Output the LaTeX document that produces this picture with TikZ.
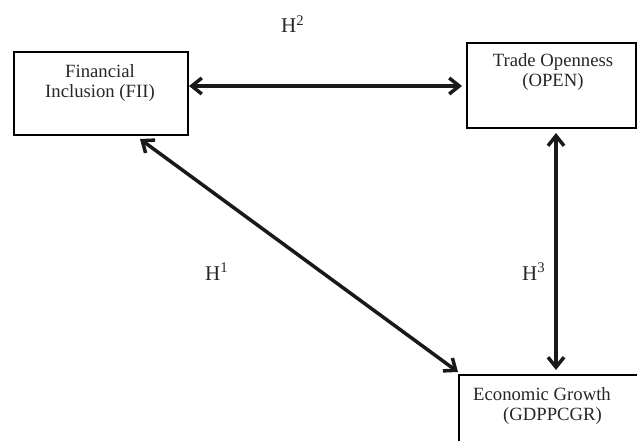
\documentclass[tikz,border=0pt]{standalone}
\usepackage{fontspec}
\setmainfont{Liberation Serif}
\usetikzlibrary{arrows.meta,calc}
\begin{document}
\begin{tikzpicture}[x=1pt,y=-1pt,
  box/.style={draw=black, line width=2pt, rectangle, inner sep=0pt, anchor=north west},
  lbl/.style={font=\fontsize{18.7}{20}\selectfont, inner sep=0pt, text=black!85},
  hyp/.style={font=\fontsize{21}{24}\selectfont, inner sep=0pt, anchor=base west, text=black!85},
  biarrow/.style={line width=3.5pt, black!90, {Straight Barb[length=10pt,width=16pt]}-{Straight Barb[length=10pt,width=16pt]}}]
\clip (0,0) rectangle (637,441);
% boxes
\node[box, minimum width=174pt, minimum height=83pt] (FII) at (13,51) {};
\node[box, minimum width=169pt, minimum height=85pt] (OPEN) at (466,42) {};
\node[box, minimum width=260pt, minimum height=120pt] (GDP) at (458,374) {};
% box texts
\node[lbl, anchor=base] (fiiA) at (100,78) {Financial};
\node[lbl, anchor=base] (fiiB) at (100,98) {Inclusion (FII)};
\node[lbl, anchor=base] (openA) at (553,67) {Trade Openness};
\node[lbl, anchor=base] (openB) at (553,87) {(OPEN)};
\node[lbl, anchor=base west] (gdpA) at (473,400) {Economic Growth};
\node[lbl, anchor=base west] (gdpB) at (503,420) {(GDPPCGR)};
% hypothesis labels
\node[hyp] (H2) at (281,33) {H\textsuperscript{2}};
\node[hyp] (H1) at (205,280) {H\textsuperscript{1}};
\node[hyp] (H3) at (522,280) {H\textsuperscript{3}};
% connectors
\coordinate (hy) at (0,86);
\coordinate (vx) at (556,0);
\draw[biarrow] (FII.east |- hy) -- ($(OPEN.west |- hy)+(-4,0)$);
\draw[biarrow] ($(FII.south east)+(-49,3)$) -- ($(GDP.north west)+(0,-2)$);
\draw[biarrow] ($(OPEN.south -| vx)+(0,4)$) -- ($(GDP.north -| vx)+(0,-4)$);
\end{tikzpicture}
\end{document}
